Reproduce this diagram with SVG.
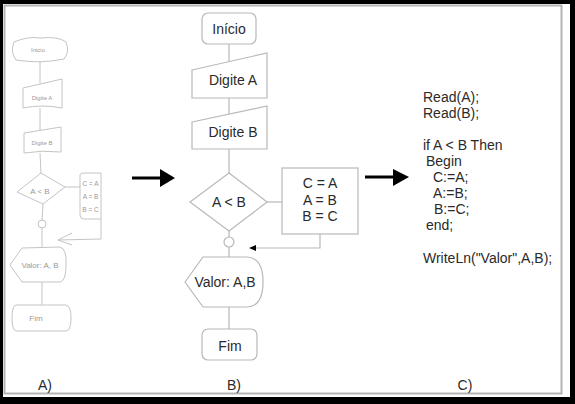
<svg xmlns="http://www.w3.org/2000/svg" width="575" height="404" viewBox="0 0 575 404">
<style>
.frame{fill:#fff;stroke:#b4b4b4;stroke-width:2}
.shape{fill:#fff;stroke:#b8b8b8;stroke-width:1.2}
.line{fill:none;stroke:#b8b8b8;stroke-width:1.2}
.sk{fill:#fff;stroke:#c4c4c4;stroke-width:1}
.skl{fill:none;stroke:#c4c4c4;stroke-width:1}
.t{font-family:"Liberation Sans",Arial,sans-serif;font-size:14px;fill:#2a2a2a;text-anchor:middle}
.code{font-family:"Liberation Sans",Arial,sans-serif;font-size:14px;fill:#2a2a2a}
.skt{font-family:"Liberation Sans",Arial,sans-serif;font-size:6px;fill:#999;text-anchor:middle}
.skb{font-family:"Liberation Sans",Arial,sans-serif;font-size:8px;fill:#999;text-anchor:middle}
.skc{font-family:"Liberation Sans",Arial,sans-serif;font-size:6.5px;fill:#999;text-anchor:middle}
.big{fill:none;stroke:#000;stroke-width:3}
</style>
<rect x="0" y="0" width="575" height="404" fill="#000"/>
<rect x="3" y="4" width="567" height="393" fill="#fff"/>
<rect class="frame" x="4.5" y="5.5" width="557" height="388"/>

<!-- A) sketch -->
<g id="sketch">
<g id="connectors-a">
<path class="skl" d="M40,62 L40,83"/>
<path class="skl" d="M40,108 L40,130"/>
<path class="skl" d="M40,153 L41,173"/>
<path class="skl" d="M65,187 L80,187"/>
<path class="skl" d="M43,204 L42,220"/>
<path class="skl" d="M42,228 L42,247"/>
<path class="skl" d="M101,219 L101,239 L58,240 M72,233 L58,240 L72,245"/>
<path class="skl" d="M42,282 L42,305"/>
</g>
<g id="a-inicio"><path class="sk" d="M14,42 Q28,36 40,38 Q58,36 66,42 Q70,52 64,59 Q40,64 16,60 Q10,52 14,42 Z"/><text class="skt" x="38" y="52">Inicio</text></g>
<g id="a-digiteA"><path class="sk" d="M23,88 L62,79 L62,108 Q42,104 23,108 Z"/><text class="skt" x="42" y="100">Digite A</text></g>
<g id="a-digiteB"><path class="sk" d="M24,133 L61,127 L61,152 Q42,150 24,153 Z"/><text class="skt" x="42" y="145">Digite B</text></g>
<g id="a-decisao"><path class="sk" d="M41,173 L65,187 L43,204 L17,192 Z"/><text class="skb" x="40" y="194">A &lt; B</text></g>
<g id="a-troca"><path class="sk" d="M80,175 Q80,173 84,173 L101,173 L101,219 L84,219 Q80,219 80,215 Z"/><text class="skc" x="90.5" y="186">C = A</text><text class="skc" x="90.5" y="199">A = B</text><text class="skc" x="90.5" y="212">B = C</text></g>
<g id="a-juncao"><circle class="sk" cx="42" cy="224" r="4"/></g>
<g id="a-valor"><path class="sk" d="M10,265 L22,248 L60,247 Q67,249 66,265 Q66,281 60,282 L22,282 Z"/><text class="skb" x="40" y="268">Valor: A, B</text></g>
<g id="a-fim"><path class="sk" d="M16,305 L66,305 Q71,306 71,318 Q71,331 66,331 L16,331 Q12,330 12,318 Q12,306 16,305 Z"/><text class="skb" x="36" y="321">Fim</text></g>
</g>

<!-- B) flowchart -->
<g id="connectors">
<path class="line" d="M229,44 L229,62"/>
<path class="line" d="M229,98 L229,114"/>
<path class="line" d="M229,149 L229,173"/>
<path class="line" d="M267,202 L282,202"/>
<path class="line" d="M229,231 L229,237"/>
<path class="line" d="M229,247 L229,257"/>
<path class="line" d="M229,307 L229,329"/>
<path class="line" d="M320,234 L320,248 L256,248"/>
<path d="M256,245 L249,248 L256,251 Z" fill="#000"/>
<path class="big" d="M132,178 L162,178"/>
<path d="M160,169 L175,178 L160,187 Z" fill="#000"/>
<path class="big" d="M365,177 L395,177"/>
<path d="M393,169 L409,177 L393,186 Z" fill="#000"/>
</g>
<g id="inicio"><rect class="shape" x="202" y="13" width="54" height="31" rx="6"/><text class="t" x="229" y="34">Início</text></g>
<g id="digiteA"><polygon class="shape" points="192,70 267,53 267,98 192,98"/><text class="t" x="233" y="85">Digite A</text></g>
<g id="digiteB"><polygon class="shape" points="192,122 267,106 267,149 192,149"/><text class="t" x="233" y="137">Digite B</text></g>
<g id="decisao"><polygon class="shape" points="229,173 267,202 229,231 190,202"/><text class="t" x="229" y="207">A &lt; B</text></g>
<g id="troca"><rect class="shape" x="282" y="168" width="76" height="66"/><text class="t" x="320" y="188">C = A</text><text class="t" x="320" y="205">A = B</text><text class="t" x="320" y="221">B = C</text></g>
<g id="juncao"><circle class="shape" cx="229" cy="242" r="5"/></g>
<g id="valor"><path class="shape" d="M185,282 L203,257 L246,257 Q263,257 263,282 Q263,307 246,307 L203,307 Z"/><text class="t" x="225" y="287">Valor: A,B</text></g>
<g id="fim"><rect class="shape" x="202" y="329" width="55" height="31" rx="6"/><text class="t" x="230" y="351">Fim</text></g>

<!-- C) code -->
<g id="codigo">
<text class="code" x="423" y="102">Read(A);</text>
<text class="code" x="423" y="118">Read(B);</text>
<text class="code" x="423" y="150">if A &lt; B Then</text>
<text class="code" x="426" y="166">Begin</text>
<text class="code" x="433" y="182">C:=A;</text>
<text class="code" x="433" y="198">A:=B;</text>
<text class="code" x="434" y="214">B:=C;</text>
<text class="code" x="426" y="230">end;</text>
<text class="code" x="423" y="263">WriteLn("Valor",A,B);</text>
</g>

<g id="rotulos">
<text class="t" x="45" y="390">A)</text>
<text class="t" x="234" y="390">B)</text>
<text class="t" x="465" y="390">C)</text>
</g>
</svg>
